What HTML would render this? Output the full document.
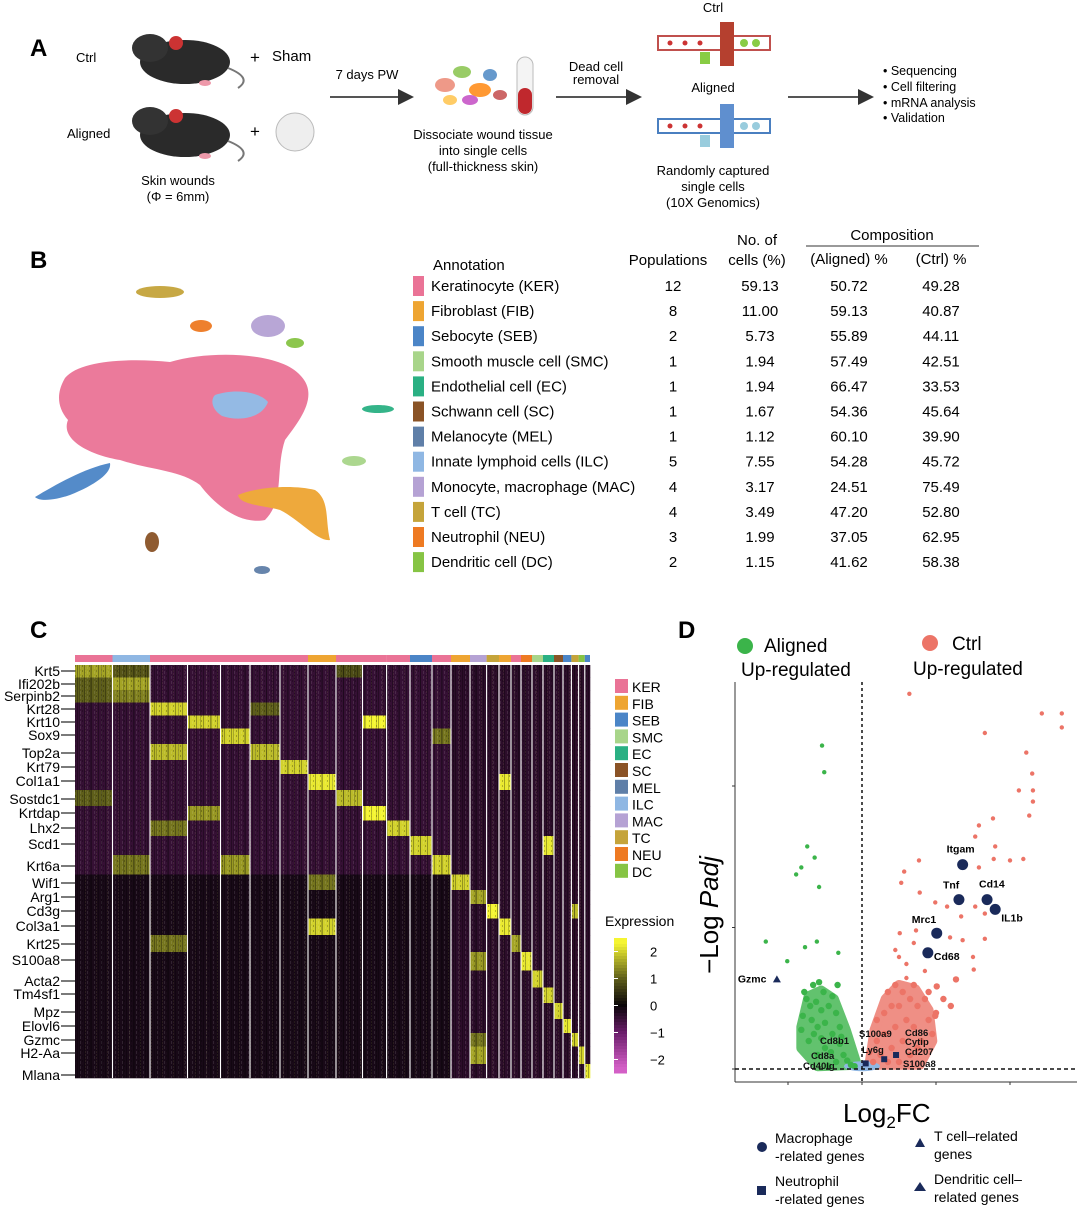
<!DOCTYPE html>
<html><head><meta charset="utf-8">
<style>
body{margin:0;background:#fff;width:1080px;height:1209px;overflow:hidden}
svg text{font-family:"Liberation Sans",Arial,sans-serif}
</style></head>
<body>
<svg id="fig" width="1080" height="1209" viewBox="0 0 1080 1209" xmlns="http://www.w3.org/2000/svg">
<defs>
<marker id="ah" markerWidth="8" markerHeight="8" refX="7" refY="4" orient="auto"><path d="M0,0 L8,4 L0,8 z" fill="#333"/></marker>
<pattern id="noise" width="7" height="5" patternUnits="userSpaceOnUse"><rect x="0" y="0" width="1" height="5" fill="#000" opacity="0.3"/><rect x="3" y="1" width="1" height="3" fill="#fff" opacity="0.1"/><rect x="5" y="0" width="1" height="2" fill="#000" opacity="0.25"/></pattern>
<pattern id="noise2" width="11" height="3" patternUnits="userSpaceOnUse"><rect x="2" y="0" width="1" height="3" fill="#000" opacity="0.2"/><rect x="8" y="1" width="1" height="2" fill="#ff8" opacity="0.08"/></pattern>
</defs>

<!-- PANEL A -->
<g>
<text x="30" y="56" font-size="24" font-weight="bold">A</text>
<text x="76" y="62" font-size="13">Ctrl</text>
<g><ellipse cx="185" cy="62" rx="45" ry="22" fill="#2a2a2a"/><ellipse cx="150" cy="48" rx="18" ry="14" fill="#333"/><circle cx="176" cy="43" r="7" fill="#c33"/><path d="M228,68 q25,10 10,20" stroke="#777" fill="none" stroke-width="2"/><ellipse cx="205" cy="83" rx="6" ry="3" fill="#e9a"/></g>
<text x="250" y="63" font-size="17">+</text>
<text x="272" y="61" font-size="15">Sham</text>
<text x="67" y="138" font-size="13">Aligned</text>
<g><ellipse cx="185" cy="135" rx="45" ry="22" fill="#2a2a2a"/><ellipse cx="150" cy="121" rx="18" ry="14" fill="#333"/><circle cx="176" cy="116" r="7" fill="#c33"/><path d="M228,141 q25,10 10,20" stroke="#777" fill="none" stroke-width="2"/><ellipse cx="205" cy="156" rx="6" ry="3" fill="#e9a"/></g>
<text x="250" y="137" font-size="17">+</text>
<circle cx="295" cy="132" r="19" fill="#eee" stroke="#bbb"/>
<text x="178" y="185" font-size="13" text-anchor="middle">Skin wounds</text>
<text x="178" y="201" font-size="13" text-anchor="middle">(Φ = 6mm)</text>
<line x1="330" y1="97" x2="412" y2="97" stroke="#555" stroke-width="2" marker-end="url(#ah)"/>
<text x="367" y="79" font-size="13" text-anchor="middle">7 days PW</text>
<g><ellipse cx="445" cy="85" rx="10" ry="7" fill="#e98"/><ellipse cx="462" cy="72" rx="9" ry="6" fill="#9c6"/><ellipse cx="480" cy="90" rx="11" ry="7" fill="#f93"/><ellipse cx="470" cy="100" rx="8" ry="5" fill="#c6c"/><ellipse cx="490" cy="75" rx="7" ry="6" fill="#69c"/><ellipse cx="450" cy="100" rx="7" ry="5" fill="#fc6"/><ellipse cx="500" cy="95" rx="7" ry="5" fill="#c66"/></g>
<g><rect x="517" y="57" width="16" height="58" rx="8" fill="#f4f4f4" stroke="#bbb"/><rect x="518" y="88" width="14" height="26" rx="7" fill="#c0282d"/></g>
<text x="483" y="139" font-size="13" text-anchor="middle">Dissociate wound tissue</text>
<text x="483" y="155" font-size="13" text-anchor="middle">into single cells</text>
<text x="483" y="171" font-size="13" text-anchor="middle">(full-thickness skin)</text>
<line x1="556" y1="97" x2="640" y2="97" stroke="#555" stroke-width="2" marker-end="url(#ah)"/>
<text x="596" y="71" font-size="13" text-anchor="middle">Dead cell</text>
<text x="596" y="84" font-size="13" text-anchor="middle">removal</text>
<text x="713" y="12" font-size="13" text-anchor="middle">Ctrl</text>
<g><rect x="658" y="36" width="112" height="14" fill="none" stroke="#c0504d" stroke-width="2"/><rect x="720" y="22" width="14" height="44" fill="#b5402f"/><circle cx="670" cy="43" r="2.5" fill="#c33"/><circle cx="685" cy="43" r="2.5" fill="#c33"/><circle cx="700" cy="43" r="2.5" fill="#c33"/><circle cx="744" cy="43" r="4" fill="#8c4"/><circle cx="756" cy="43" r="4" fill="#8c4"/><rect x="700" y="52" width="10" height="12" fill="#8c4"/></g>
<text x="713" y="92" font-size="13" text-anchor="middle">Aligned</text>
<g><rect x="658" y="119" width="112" height="14" fill="none" stroke="#4a7fc0" stroke-width="2"/><rect x="720" y="104" width="14" height="44" fill="#5f8fcf"/><circle cx="670" cy="126" r="2.5" fill="#c33"/><circle cx="685" cy="126" r="2.5" fill="#c33"/><circle cx="700" cy="126" r="2.5" fill="#c33"/><circle cx="744" cy="126" r="4" fill="#9cd"/><circle cx="756" cy="126" r="4" fill="#9cd"/><rect x="700" y="135" width="10" height="12" fill="#9cd"/></g>
<text x="713" y="175" font-size="13" text-anchor="middle">Randomly captured</text>
<text x="713" y="191" font-size="13" text-anchor="middle">single cells</text>
<text x="713" y="207" font-size="13" text-anchor="middle">(10X Genomics)</text>
<line x1="788" y1="97" x2="872" y2="97" stroke="#555" stroke-width="2" marker-end="url(#ah)"/>
<text x="883" y="75" font-size="12.5">• Sequencing</text>
<text x="883" y="91" font-size="12.5">• Cell filtering</text>
<text x="883" y="107" font-size="12.5">• mRNA analysis</text>
<text x="883" y="122" font-size="12.5">• Validation</text>
</g>

<!-- PANEL B -->
<g>
<text x="30" y="268" font-size="24" font-weight="bold">B</text>
<g opacity="0.95">
<path d="M65,378 C80,360 130,358 170,362 C210,350 280,352 300,375 C320,395 300,420 285,440 C275,470 285,500 265,520 C240,525 215,505 200,485 C180,470 150,470 120,460 C90,455 60,440 68,420 C55,405 58,390 65,378z" fill="#ea7396"/>
<path d="M215,395 C235,388 260,392 268,402 C262,418 240,422 222,416 C212,410 210,400 215,395z" fill="#8fb7e3"/>
<path d="M35,497 C55,485 85,468 110,463 C112,473 95,485 70,495 C55,500 40,502 35,497z" fill="#4b85c7"/>
<path d="M238,495 C260,486 295,485 315,490 C330,500 325,520 330,540 C318,542 300,520 280,510 C262,505 240,505 238,495z" fill="#eea532"/>
<ellipse cx="152" cy="542" rx="7" ry="10" fill="#8a5326"/>
<ellipse cx="262" cy="570" rx="8" ry="4" fill="#5f7fa8"/>
<ellipse cx="160" cy="292" rx="24" ry="6" fill="#c5a43a"/>
<ellipse cx="201" cy="326" rx="11" ry="6" fill="#ee7a22"/>
<ellipse cx="268" cy="326" rx="17" ry="11" fill="#b5a2d4"/>
<ellipse cx="295" cy="343" rx="9" ry="5" fill="#86c444"/>
<ellipse cx="378" cy="409" rx="16" ry="4" fill="#2ab083"/>
<ellipse cx="354" cy="461" rx="12" ry="5" fill="#a8d58a"/>
</g>
<text x="433" y="270" font-size="15">Annotation</text>
<text x="668" y="265" font-size="15" text-anchor="middle">Populations</text>
<text x="757" y="245" font-size="15" text-anchor="middle">No. of</text>
<text x="757" y="265" font-size="15" text-anchor="middle">cells (%)</text>
<text x="892" y="240" font-size="15" text-anchor="middle">Composition</text>
<line x1="806" y1="246" x2="979" y2="246" stroke="#333"/>
<text x="849" y="264" font-size="15" text-anchor="middle">(Aligned) %</text>
<text x="941" y="264" font-size="15" text-anchor="middle">(Ctrl) %</text>
<g id="tableRows"></g>
</g>

<!-- PANEL C -->
<g>
<text x="30" y="638" font-size="24" font-weight="bold">C</text>
<g id="heatmap"></g>
<g id="heatLegend"></g>
</g>

<!-- PANEL D -->
<g>
<text x="678" y="638" font-size="24" font-weight="bold">D</text>
<circle cx="745" cy="646" r="8" fill="#3bb44a"/>
<text x="764" y="652" font-size="19">Aligned</text>
<text x="741" y="676" font-size="19">Up-regulated</text>
<circle cx="930" cy="643" r="8" fill="#ec7467"/>
<text x="952" y="650" font-size="19">Ctrl</text>
<text x="913" y="675" font-size="19">Up-regulated</text>
<g id="volcano"></g>
<text transform="translate(718,915) rotate(-90)" font-size="26" text-anchor="middle">−Log <tspan font-style="italic">Padj</tspan></text>
<text x="843" y="1122" font-size="26">Log<tspan font-size="17" dy="6">2</tspan><tspan dy="-6">FC</tspan></text>
<circle cx="762" cy="1147" r="5" fill="#1a2a5a"/>
<text x="775" y="1143" font-size="14">Macrophage</text>
<text x="775" y="1161" font-size="14">-related genes</text>
<rect x="757" y="1186" width="9" height="9" fill="#1a2a5a"/>
<text x="775" y="1186" font-size="14">Neutrophil</text>
<text x="775" y="1204" font-size="14">-related genes</text>
<path d="M915,1147 l5,-9 l5,9z" fill="#1a2a5a"/>
<text x="934" y="1141" font-size="14">T cell–related</text>
<text x="934" y="1159" font-size="14">genes</text>
<path d="M914,1191 l6,-9 l6,9z" fill="#1a2a5a"/>
<text x="934" y="1184" font-size="14">Dendritic cell–</text>
<text x="934" y="1202" font-size="14">related genes</text>
</g>
</svg>

<script>
const NS="http://www.w3.org/2000/svg";
function mk(tag,attrs,parent){const e=document.createElementNS(NS,tag);for(const k in attrs)e.setAttribute(k,attrs[k]);parent.appendChild(e);return e;}

/* ---------- Table data (panel B) ---------- */
const cellTypes=["Keratinocyte (KER)","Fibroblast (FIB)","Sebocyte (SEB)","Smooth muscle cell (SMC)","Endothelial cell (EC)","Schwann cell (SC)","Melanocyte (MEL)","Innate lymphoid cells (ILC)","Monocyte, macrophage (MAC)","T cell (TC)","Neutrophil (NEU)","Dendritic cell (DC)"];
const typeColors=["#ea7396","#eea532","#4b85c7","#a8d58a","#2ab083","#8a5326","#5f7fa8","#8fb7e3","#b5a2d4","#c5a43a","#ee7a22","#86c444"];
const populations=[12,8,2,1,1,1,1,5,4,4,3,2];
const cellPct=["59.13","11.00","5.73","1.94","1.94","1.67","1.12","7.55","3.17","3.49","1.99","1.15"];
const alignedPct=["50.72","59.13","55.89","57.49","66.47","54.36","60.10","54.28","24.51","47.20","37.05","41.62"];
const ctrlPct=["49.28","40.87","44.11","42.51","33.53","45.64","39.90","45.72","75.49","52.80","62.95","58.38"];

const tr=document.getElementById('tableRows');
cellTypes.forEach((t,i)=>{
  const y=291+i*25.1;
  const r=mk('rect',{x:413,y:y-15,width:11,height:20,fill:typeColors[i]},tr);
  
  
  const a=mk('text',{x:431,y:y,'font-size':15},tr);a.textContent=t;
  
  
  [[populations[i],673],[cellPct[i],760],[alignedPct[i],849],[ctrlPct[i],941]].forEach(([v,x])=>{
    const c=mk('text',{x:x,y:y,'font-size':15,'text-anchor':'middle'},tr);c.textContent=v;
    
    
  });
});

/* ---------- Heatmap data (panel C) ---------- */
const genes=["Krt5","Ifi202b","Serpinb2","Krt28","Krt10","Sox9","Top2a","Krt79","Col1a1","Sostdc1","Krtdap","Lhx2","Scd1","Krt6a","Wif1","Arg1","Cd3g","Col3a1","Krt25","S100a8","Acta2","Tm4sf1","Mpz","Elovl6","Gzmc","H2-Aa","Mlana"];
const clusterTypes=["KER","ILC","KER","KER","KER","KER","KER","FIB","KER","KER","KER","SEB","KER","FIB","MAC","TC","FIB","KER","NEU","SMC","EC","SC","SEB","TC","DC","SEB"];
const highEntries=[[0,0,1.6],[0,1,0.9],[0,8,0.8],[1,1,1.6],[1,0,1.0],[2,1,1.3],[2,0,1.0],[3,2,2.0],[3,5,1.0],[4,3,2.0],[4,9,2.3],[5,4,2.0],[5,12,1.2],[6,2,1.8],[6,5,1.8],[7,6,2.0],[8,7,2.2],[8,16,2.2],[9,8,1.8],[9,0,1.0],[10,9,2.3],[10,3,1.5],[11,10,2.0],[11,2,1.2],[12,11,2.0],[12,20,2.2],[13,12,2.0],[13,4,1.5],[13,1,1.2],[14,13,2.0],[14,7,1.2],[15,14,1.6],[16,15,2.3],[16,23,1.8],[17,16,2.2],[17,7,2.0],[18,17,1.6],[18,2,1.2],[19,18,2.2],[19,14,1.5],[20,19,2.0],[21,20,2.0],[22,21,2.0],[23,22,2.2],[24,23,2.0],[24,14,1.2],[25,24,2.0],[25,14,1.6],[26,25,2.2]];
const legendTypes=["KER","FIB","SEB","SMC","EC","SC","MEL","ILC","MAC","TC","NEU","DC"];
const colorbarTicks=[2,1,0,-1,-2];

/* layout (pixel geometry, not data) */
const colEdges=[75,112.5,150,187.5,220.5,250,280,308,336,362.5,386.6,410,432,451,470,486.6,499,511,521,532,543,554,563,571.4,578.6,584.8,590];
const geneY=[671,684,696,709,722,735,753,767,781,799,813,828,844,866,883,897,911,926,944,960,981,994,1012,1026,1040,1053,1075];
const hmTop=665,hmBot=1078;
const typeColor={KER:"#ea7396",FIB:"#eea532",SEB:"#4b85c7",SMC:"#a8d58a",EC:"#2ab083",SC:"#8a5326",MEL:"#5f7fa8",ILC:"#8fb7e3",MAC:"#b5a2d4",TC:"#c5a43a",NEU:"#ee7a22",DC:"#86c444"};

const stops=[[-2.3,[211,95,198]],[-1,[106,29,106]],[0,[10,5,8]],[1,[94,94,26]],[2.3,[245,245,50]]];
function colorOf(v){
  if(v<=stops[0][0])return `rgb(${stops[0][1]})`;
  for(let i=1;i<stops.length;i++){if(v<=stops[i][0]){const a=stops[i-1],b=stops[i],t=(v-a[0])/(b[0]-a[0]);return `rgb(${a[1].map((c,k)=>Math.round(c+(b[1][k]-c)*t)).join(',')})`;}}
  return `rgb(${stops[stops.length-1][1]})`;
}
function baseValue(g,c){ if(g<=13&&c<=12)return -0.45; if(c<=12)return -0.15; return -0.35; }
const matrix=genes.map((g,gi)=>clusterTypes.map((t,ci)=>baseValue(gi,ci)));
highEntries.forEach(([g,c,v])=>{matrix[g][c]=v;});

const hm=document.getElementById('heatmap');
function rowBounds(i){const top=i===0?hmTop:(geneY[i-1]+geneY[i])/2;const bot=i===genes.length-1?hmBot:(geneY[i]+geneY[i+1])/2;return [top,bot];}
clusterTypes.forEach((t,ci)=>{
  const b=mk('rect',{x:colEdges[ci],y:655,width:colEdges[ci+1]-colEdges[ci],height:7,fill:typeColor[t]},hm);
  
  
});
genes.forEach((g,gi)=>{
  const [t,bo]=rowBounds(gi);
  clusterTypes.forEach((ct,ci)=>{
    const r=mk('rect',{x:colEdges[ci],y:t,width:colEdges[ci+1]-colEdges[ci]+0.3,height:bo-t+0.3,fill:colorOf(matrix[gi][ci])},hm);
    
    
  });
  const lab=mk('text',{x:60,y:geneY[gi]+5,'font-size':14,'text-anchor':'end'},hm);lab.textContent=g;
  
  
  const tk=mk('line',{x1:61,y1:geneY[gi],x2:75,y2:geneY[gi],stroke:'#222','stroke-width':1.2},hm);
  
  
});
const nz=mk('rect',{x:75,y:hmTop,width:515,height:hmBot-hmTop,fill:'url(#noise)'},hm);


const nz2=mk('rect',{x:75,y:hmTop,width:515,height:hmBot-hmTop,fill:'url(#noise2)'},hm);


colEdges.slice(1,-1).forEach(x=>{
  const l=mk('line',{x1:x,y1:hmTop,x2:x,y2:hmBot,stroke:'#fff','stroke-width':1.1},hm);
  
  
});

const hl=document.getElementById('heatLegend');
legendTypes.forEach((t,i)=>{
  const y=679+i*16.8;
  const r=mk('rect',{x:615,y:y,width:13,height:14,fill:typeColor[t]},hl);
  
  
  const tx=mk('text',{x:632,y:y+13,'font-size':14},hl);tx.textContent=t;
  
  
});
const et=mk('text',{x:605,y:926,'font-size':14},hl);et.textContent="Expression";


const cbTop=938,cbBot=1073,cbMin=-2.5,cbMax=2.5;
function cbY(v){return cbBot-(v-cbMin)/(cbMax-cbMin)*(cbBot-cbTop);}
for(let k=0;k<45;k++){
  const v=cbMax-(k+0.5)*(cbMax-cbMin)/45;
  const r=mk('rect',{x:614,y:cbTop+k*(cbBot-cbTop)/45,width:13,height:(cbBot-cbTop)/45+0.5,fill:colorOf(v)},hl);
  
  
}
colorbarTicks.forEach(v=>{
  const y=cbY(v);
  const t=mk('text',{x:650,y:y+5,'font-size':13},hl);t.textContent=v<0?'−'+(-v):String(v);
  
  
  const l=mk('line',{x1:614,y1:y,x2:618,y2:y,stroke:'#fff'},hl);
  
  
});

/* ---------- Volcano data (panel D) ---------- */
const greenPts=[[-0.54,2.31],[-0.51,2.12],[-0.74,1.59],[-0.64,1.51],[-0.82,1.44],[-0.89,1.39],[-0.58,1.30],[-1.30,0.91],[-0.61,0.91],[-0.77,0.87],[-0.32,0.83],[-1.01,0.77],
[-0.75,0.5],[-0.7,0.45],[-0.62,0.48],[-0.55,0.42],[-0.8,0.38],[-0.68,0.35],[-0.6,0.3],[-0.5,0.33],[-0.45,0.45],[-0.35,0.4],[-0.3,0.3],[-0.4,0.25],[-0.55,0.22],[-0.65,0.25],[-0.72,0.2],[-0.5,0.15],[-0.42,0.12],[-0.3,0.18],[-0.25,0.1],[-0.2,0.06],[-0.35,0.05],[-0.15,0.03],[-0.6,0.1],[-0.45,0.02],[-0.1,0.02],[-0.28,0.23],[-0.82,0.28],[-0.78,0.55],[-0.66,0.6],[-0.52,0.55],[-0.4,0.52],[-0.33,0.6],[-0.58,0.62]];
const redPts=[[0.64,2.68],[2.43,2.54],[2.70,2.54],[2.70,2.44],[1.66,2.40],[2.22,2.26],[2.30,2.11],[2.12,1.99],[2.31,1.99],[2.31,1.91],[2.26,1.81],[1.77,1.79],[1.58,1.74],[1.53,1.66],[1.80,1.59],[0.77,1.49],[1.78,1.50],[2.0,1.49],[2.18,1.50],[1.58,1.44],[0.57,1.41],[0.53,1.33],[0.78,1.26],[0.99,1.19],[1.15,1.16],[1.53,1.16],[1.66,1.11],[1.34,1.09],[0.51,0.97],[0.73,0.99],[1.19,0.94],[1.66,0.93],[1.36,0.92],[1.50,0.80],[1.51,0.71],[1.27,0.64],[1.01,0.59],[0.99,0.38],
[0.5,0.8],[0.6,0.75],[0.85,0.7],[0.9,0.55],[1.1,0.5],[0.7,0.9],[0.45,0.85],[1.2,0.45],
[0.15,0.05],[0.25,0.1],[0.35,0.05],[0.2,0.2],[0.3,0.25],[0.4,0.15],[0.45,0.3],[0.55,0.2],[0.6,0.35],[0.5,0.45],[0.7,0.3],[0.75,0.45],[0.65,0.5],[0.8,0.2],[0.9,0.35],[0.85,0.5],[0.55,0.55],[0.4,0.45],[0.3,0.4],[0.35,0.55],[0.45,0.6],[0.6,0.65],[0.7,0.6],[0.95,0.25],[1.0,0.4],[0.5,0.05],[0.65,0.1],[0.1,0.12],[0.2,0.35],[0.75,0.15]];
const greenCloud=[[-0.82,0.3],[-0.72,0.52],[-0.55,0.56],[-0.38,0.5],[-0.22,0.28],[-0.07,0.03],[-0.6,0.02],[-0.82,0.15]];
const redCloud=[[0.1,0.03],[0.17,0.28],[0.32,0.5],[0.5,0.6],[0.72,0.57],[0.9,0.42],[0.95,0.2],[0.78,0.03]];
const macGenes=["Itgam","Tnf","Cd14","IL1b","Mrc1","Cd68"];
const macX=[1.36,1.31,1.69,1.80,1.01,0.89];
const macY=[1.46,1.21,1.21,1.14,0.97,0.83];
const neuX=[0.05,0.30,0.46];
const neuY=[0.04,0.07,0.10];
const tcGenes=["Gzmc"];
const tcX=[-1.15];
const tcY=[0.64];
const xTicks=[-1,0,1,2];
const yTicks=[0,1,2];

const X0=862,XU=74,Y0=1069,YU=140;
function sx(v){return X0+v*XU;}
function sy(v){return Y0-v*YU;}
const vg=document.getElementById('volcano');
const axL=735,axB=1082;
let e;
e=mk('line',{x1:axL,y1:682,x2:axL,y2:axB,stroke:'#333','stroke-width':1},vg);


e=mk('line',{x1:axL,y1:axB,x2:1077,y2:axB,stroke:'#333','stroke-width':1},vg);


yTicks.forEach(v=>{const t=mk('line',{x1:axL-3,y1:sy(v)-(v*1.5),x2:axL,y2:sy(v)-(v*1.5),stroke:'#333'},vg);
  
  });
xTicks.forEach(v=>{const t=mk('line',{x1:sx(v),y1:axB,x2:sx(v),y2:axB+3,stroke:'#333'},vg);
  
  });
function poly(pts,fill,name){const p=mk('polygon',{points:pts.map(q=>sx(q[0])+','+sy(q[1])).join(' '),fill:fill,stroke:fill,'stroke-width':10,'stroke-linejoin':'round',opacity:0.8},vg);
  
  }
poly(greenCloud,'#3bb44a','aligned-dense-region');
poly(redCloud,'#ec7467','ctrl-dense-region');
e=mk('ellipse',{cx:sx(0),cy:sy(0.02),rx:18,ry:5,fill:'#8fb7e3'},vg);


greenPts.forEach(p=>{const c=mk('circle',{cx:sx(p[0]),cy:sy(p[1]),r:p[1]<0.65?3.2:2.2,fill:'#3bb44a'},vg);
  
  });
redPts.forEach(p=>{const c=mk('circle',{cx:sx(p[0]),cy:sy(p[1]),r:p[1]<0.65?3.2:2.2,fill:'#ec7467'},vg);
  
  });
e=mk('line',{x1:sx(0),y1:682,x2:sx(0),y2:axB,stroke:'#111','stroke-width':1.5,'stroke-dasharray':'3,3'},vg);


e=mk('line',{x1:axL,y1:sy(0),x2:1077,y2:sy(0),stroke:'#111','stroke-width':1.5,'stroke-dasharray':'4,3'},vg);


const labOff=[[-16,-12],[-16,-11],[-8,-12],[6,12],[-25,-10],[6,7]];
macGenes.forEach((g,i)=>{
  const c=mk('circle',{cx:sx(macX[i]),cy:sy(macY[i]),r:5.5,fill:'#1a2a5a'},vg);
  
  
  const t=mk('text',{x:sx(macX[i])+labOff[i][0],y:sy(macY[i])+labOff[i][1],'font-size':10.5,'font-weight':'bold'},vg);t.textContent=g;
  
  
});
neuX.forEach((x,i)=>{const r=mk('rect',{x:sx(x)-3,y:sy(neuY[i])-3,width:6,height:6,fill:'#1a2a5a'},vg);
  
  });
tcGenes.forEach((g,i)=>{
  const p=mk('path',{d:`M${sx(tcX[i])-4},${sy(tcY[i])+3} l4,-7 l4,7z`,fill:'#1a2a5a'},vg);
  
  
  const t=mk('text',{x:sx(tcX[i])-39,y:sy(tcY[i])+3,'font-size':10.5,'font-weight':'bold'},vg);t.textContent=g;
  
  
});
const smallLabels=[["Cd8b1",820,1044],["Cd8a",811,1059],["Cd40lg",803,1069],["S100a9",859,1037],["Ly6g",862,1053],["Cd86",905,1036],["Cytip",905,1045],["Cd207",905,1055],["S100a8",903,1067]];
smallLabels.forEach(([s,x,y])=>{const t=mk('text',{x:x,y:y,'font-size':9.5,'font-weight':'bold',fill:'#111'},vg);t.textContent=s;
  
  });
</script>
</body></html>
